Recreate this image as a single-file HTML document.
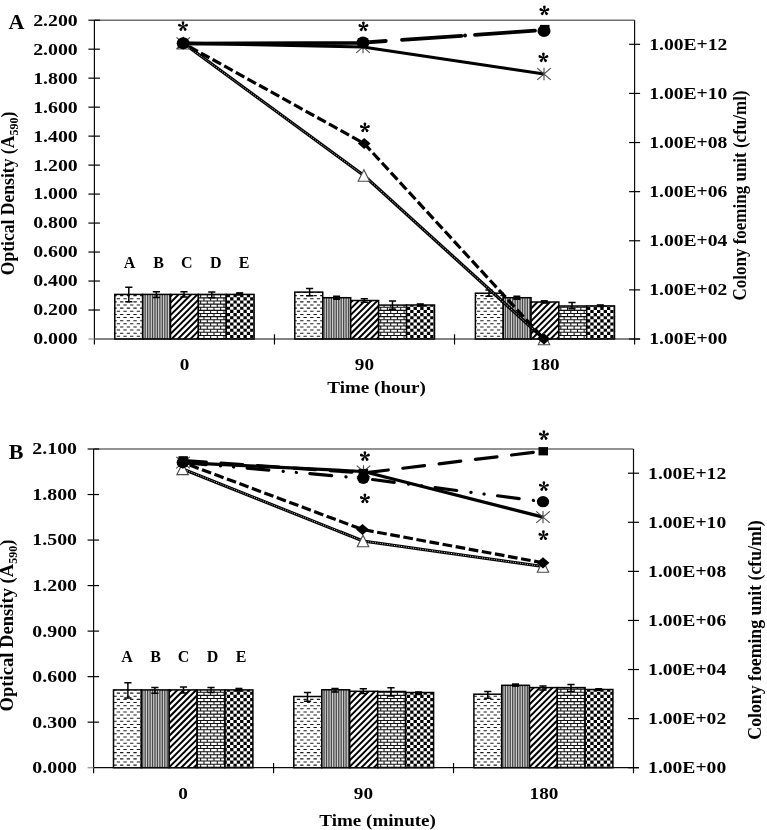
<!DOCTYPE html><html><head><meta charset="utf-8"><title>Figure</title>
<style>html,body{margin:0;padding:0;background:#fff}svg{display:block}text{font-family:"Liberation Serif",serif;font-weight:bold;fill:#000}</style></head><body>
<svg width="767" height="830" viewBox="0 0 767 830">
<rect width="767" height="830" fill="#fff"/>
<defs><g id="ast"><path id="arm" d="M-0.32,0.2L-1.27,-3.3A1.36,1.36 0 1 1 1.27,-3.3L0.32,0.2Z"/><use href="#arm" transform="rotate(72)"/><use href="#arm" transform="rotate(144)"/><use href="#arm" transform="rotate(216)"/><use href="#arm" transform="rotate(288)"/></g></defs>
<g opacity="0.999">
<line x1="94.4" y1="20.2" x2="634.6" y2="20.2" stroke="#6e6e6e" stroke-width="1.4"/>
<clipPath id="c1"><rect x="114.80" y="294.40" width="27.86" height="44.60"/></clipPath>
<g clip-path="url(#c1)">
<rect x="114.80" y="294.40" width="27.86" height="44.60" fill="#fff"/>
<path d="M106.72,289.36H149.33M110.05,292.49H149.33M106.72,295.62H149.33M110.05,298.75H149.33M106.72,301.88H149.33M110.05,305.01H149.33M106.72,308.14H149.33M110.05,311.27H149.33M106.72,314.40H149.33M110.05,317.53H149.33M106.72,320.66H149.33M110.05,323.79H149.33M106.72,326.92H149.33M110.05,330.05H149.33M106.72,333.18H149.33M110.05,336.31H149.33M106.72,339.44H149.33M110.05,342.57H149.33M106.72,345.70H149.33" stroke="#1a1a1a" stroke-width="1.05" stroke-dasharray="3.335 3.335" fill="none"/>
</g>
<rect x="114.80" y="294.40" width="27.86" height="44.60" fill="none" stroke="#000" stroke-width="1.5"/>
<clipPath id="c2"><rect x="142.66" y="294.40" width="27.86" height="44.60"/></clipPath>
<g clip-path="url(#c2)">
<rect x="142.66" y="294.40" width="27.86" height="44.60" fill="#cfcfcf"/>
<path d="M142.10,316.70H177.19" stroke="#484848" stroke-width="46.60" stroke-dasharray="1.274 1.176" fill="none"/>
</g>
<rect x="142.66" y="294.40" width="27.86" height="44.60" fill="none" stroke="#000" stroke-width="1.5"/>
<clipPath id="c3"><rect x="170.52" y="294.40" width="27.86" height="44.60"/></clipPath>
<g clip-path="url(#c3)">
<rect x="170.52" y="294.40" width="27.86" height="44.60" fill="#fff"/>
<path d="M160.08,287.96L205.05,242.99M160.08,294.22L205.05,249.25M160.08,300.48L205.05,255.51M160.08,306.74L205.05,261.77M160.08,313.00L205.05,268.03M160.08,319.26L205.05,274.29M160.08,325.52L205.05,280.55M160.08,331.78L205.05,286.81M160.08,338.04L205.05,293.07M160.08,344.30L205.05,299.33M160.08,350.56L205.05,305.59M160.08,356.82L205.05,311.85M160.08,363.08L205.05,318.11M160.08,369.34L205.05,324.37M160.08,375.60L205.05,330.63M160.08,381.86L205.05,336.89M160.08,388.12L205.05,343.15M160.08,394.38L205.05,349.41" stroke="#000" stroke-width="2.0" fill="none"/>
</g>
<rect x="170.52" y="294.40" width="27.86" height="44.60" fill="none" stroke="#000" stroke-width="1.5"/>
<clipPath id="c4"><rect x="198.38" y="294.40" width="27.86" height="44.60"/></clipPath>
<g clip-path="url(#c4)">
<rect x="198.38" y="294.40" width="27.86" height="44.60" fill="#fff"/>
<path d="M186.76,288.46H232.91M186.76,291.59H232.91M186.76,294.72H232.91M186.76,297.85H232.91M186.76,300.98H232.91M186.76,304.11H232.91M186.76,307.24H232.91M186.76,310.37H232.91M186.76,313.50H232.91M186.76,316.63H232.91M186.76,319.76H232.91M186.76,322.89H232.91M186.76,326.02H232.91M186.76,329.15H232.91M186.76,332.28H232.91M186.76,335.41H232.91M186.76,338.54H232.91M186.76,341.67H232.91M186.76,344.80H232.91" stroke="#111" stroke-width="1.05" fill="none"/>
<path d="M186.76,290.02H232.91M186.76,296.28H232.91M186.76,302.54H232.91M186.76,308.80H232.91M186.76,315.06H232.91M186.76,321.32H232.91M186.76,327.58H232.91M186.76,333.84H232.91M186.76,340.10H232.91M186.76,346.36H232.91M190.10,293.15H232.91M190.10,299.41H232.91M190.10,305.67H232.91M190.10,311.93H232.91M190.10,318.19H232.91M190.10,324.45H232.91M190.10,330.71H232.91M190.10,336.97H232.91M190.10,343.23H232.91" stroke="#111" stroke-width="3.13" stroke-dasharray="1.05 5.620" fill="none"/>
</g>
<rect x="198.38" y="294.40" width="27.86" height="44.60" fill="none" stroke="#000" stroke-width="1.5"/>
<clipPath id="c5"><rect x="226.24" y="294.40" width="27.86" height="44.60"/></clipPath>
<g clip-path="url(#c5)">
<rect x="226.24" y="294.40" width="27.86" height="44.60" fill="#fff"/>
<path d="M213.44,289.52H260.77M216.78,292.65H260.77M213.44,295.78H260.77M216.78,298.91H260.77M213.44,302.04H260.77M216.78,305.17H260.77M213.44,308.30H260.77M216.78,311.43H260.77M213.44,314.56H260.77M216.78,317.69H260.77M213.44,320.82H260.77M216.78,323.95H260.77M213.44,327.08H260.77M216.78,330.21H260.77M213.44,333.34H260.77M216.78,336.47H260.77M213.44,339.60H260.77M216.78,342.73H260.77M213.44,345.86H260.77" stroke="#000" stroke-width="3.130" stroke-dasharray="3.335 3.335" fill="none"/>
</g>
<rect x="226.24" y="294.40" width="27.86" height="44.60" fill="none" stroke="#000" stroke-width="1.5"/>
<clipPath id="c6"><rect x="294.80" y="292.10" width="27.94" height="46.90"/></clipPath>
<g clip-path="url(#c6)">
<rect x="294.80" y="292.10" width="27.94" height="46.90" fill="#fff"/>
<path d="M286.81,283.10H329.41M290.14,286.23H329.41M286.81,289.36H329.41M290.14,292.49H329.41M286.81,295.62H329.41M290.14,298.75H329.41M286.81,301.88H329.41M290.14,305.01H329.41M286.81,308.14H329.41M290.14,311.27H329.41M286.81,314.40H329.41M290.14,317.53H329.41M286.81,320.66H329.41M290.14,323.79H329.41M286.81,326.92H329.41M290.14,330.05H329.41M286.81,333.18H329.41M290.14,336.31H329.41M286.81,339.44H329.41M290.14,342.57H329.41M286.81,345.70H329.41" stroke="#1a1a1a" stroke-width="1.05" stroke-dasharray="3.335 3.335" fill="none"/>
</g>
<rect x="294.80" y="292.10" width="27.94" height="46.90" fill="none" stroke="#000" stroke-width="1.5"/>
<clipPath id="c7"><rect x="322.74" y="297.70" width="27.94" height="41.30"/></clipPath>
<g clip-path="url(#c7)">
<rect x="322.74" y="297.70" width="27.94" height="41.30" fill="#cfcfcf"/>
<path d="M320.95,318.35H357.35" stroke="#484848" stroke-width="43.30" stroke-dasharray="1.274 1.176" fill="none"/>
</g>
<rect x="322.74" y="297.70" width="27.94" height="41.30" fill="none" stroke="#000" stroke-width="1.5"/>
<clipPath id="c8"><rect x="350.68" y="300.50" width="27.94" height="38.50"/></clipPath>
<g clip-path="url(#c8)">
<rect x="350.68" y="300.50" width="27.94" height="38.50" fill="#fff"/>
<path d="M340.17,294.22L385.29,249.10M340.17,300.48L385.29,255.36M340.17,306.74L385.29,261.62M340.17,313.00L385.29,267.88M340.17,319.26L385.29,274.14M340.17,325.52L385.29,280.40M340.17,331.78L385.29,286.66M340.17,338.04L385.29,292.92M340.17,344.30L385.29,299.18M340.17,350.56L385.29,305.44M340.17,356.82L385.29,311.70M340.17,363.08L385.29,317.96M340.17,369.34L385.29,324.22M340.17,375.60L385.29,330.48M340.17,381.86L385.29,336.74M340.17,388.12L385.29,343.00M340.17,394.38L385.29,349.26" stroke="#000" stroke-width="2.0" fill="none"/>
</g>
<rect x="350.68" y="300.50" width="27.94" height="38.50" fill="none" stroke="#000" stroke-width="1.5"/>
<clipPath id="c9"><rect x="378.62" y="305.10" width="27.94" height="33.90"/></clipPath>
<g clip-path="url(#c9)">
<rect x="378.62" y="305.10" width="27.94" height="33.90" fill="#fff"/>
<path d="M366.85,294.72H413.23M366.85,297.85H413.23M366.85,300.98H413.23M366.85,304.11H413.23M366.85,307.24H413.23M366.85,310.37H413.23M366.85,313.50H413.23M366.85,316.63H413.23M366.85,319.76H413.23M366.85,322.89H413.23M366.85,326.02H413.23M366.85,329.15H413.23M366.85,332.28H413.23M366.85,335.41H413.23M366.85,338.54H413.23M366.85,341.67H413.23M366.85,344.80H413.23" stroke="#111" stroke-width="1.05" fill="none"/>
<path d="M366.85,296.29H413.23M366.85,302.55H413.23M366.85,308.81H413.23M366.85,315.06H413.23M366.85,321.32H413.23M366.85,327.58H413.23M366.85,333.84H413.23M366.85,340.10H413.23M366.85,346.36H413.23M370.18,299.42H413.23M370.18,305.68H413.23M370.18,311.94H413.23M370.18,318.19H413.23M370.18,324.45H413.23M370.18,330.71H413.23M370.18,336.97H413.23M370.18,343.23H413.23" stroke="#111" stroke-width="3.13" stroke-dasharray="1.05 5.620" fill="none"/>
</g>
<rect x="378.62" y="305.10" width="27.94" height="33.90" fill="none" stroke="#000" stroke-width="1.5"/>
<clipPath id="c10"><rect x="406.56" y="305.00" width="27.94" height="34.00"/></clipPath>
<g clip-path="url(#c10)">
<rect x="406.56" y="305.00" width="27.94" height="34.00" fill="#fff"/>
<path d="M393.53,295.79H441.17M396.86,298.92H441.17M393.53,302.05H441.17M396.86,305.18H441.17M393.53,308.31H441.17M396.86,311.44H441.17M393.53,314.56H441.17M396.86,317.69H441.17M393.53,320.82H441.17M396.86,323.95H441.17M393.53,327.08H441.17M396.86,330.21H441.17M393.53,333.34H441.17M396.86,336.47H441.17M393.53,339.60H441.17M396.86,342.73H441.17M393.53,345.86H441.17" stroke="#000" stroke-width="3.130" stroke-dasharray="3.335 3.335" fill="none"/>
</g>
<rect x="406.56" y="305.00" width="27.94" height="34.00" fill="none" stroke="#000" stroke-width="1.5"/>
<clipPath id="c11"><rect x="475.40" y="293.20" width="27.82" height="45.80"/></clipPath>
<g clip-path="url(#c11)">
<rect x="475.40" y="293.20" width="27.82" height="45.80" fill="#fff"/>
<path d="M466.90,283.10H509.89M470.23,286.23H509.89M466.90,289.36H509.89M470.23,292.49H509.89M466.90,295.62H509.89M470.23,298.75H509.89M466.90,301.88H509.89M470.23,305.01H509.89M466.90,308.14H509.89M470.23,311.27H509.89M466.90,314.40H509.89M470.23,317.53H509.89M466.90,320.66H509.89M470.23,323.79H509.89M466.90,326.92H509.89M470.23,330.05H509.89M466.90,333.18H509.89M470.23,336.31H509.89M466.90,339.44H509.89M470.23,342.57H509.89M466.90,345.70H509.89" stroke="#1a1a1a" stroke-width="1.05" stroke-dasharray="3.335 3.335" fill="none"/>
</g>
<rect x="475.40" y="293.20" width="27.82" height="45.80" fill="none" stroke="#000" stroke-width="1.5"/>
<clipPath id="c12"><rect x="503.22" y="297.70" width="27.82" height="41.30"/></clipPath>
<g clip-path="url(#c12)">
<rect x="503.22" y="297.70" width="27.82" height="41.30" fill="#cfcfcf"/>
<path d="M502.25,318.35H537.71" stroke="#484848" stroke-width="43.30" stroke-dasharray="1.274 1.176" fill="none"/>
</g>
<rect x="503.22" y="297.70" width="27.82" height="41.30" fill="none" stroke="#000" stroke-width="1.5"/>
<clipPath id="c13"><rect x="531.04" y="302.00" width="27.82" height="37.00"/></clipPath>
<g clip-path="url(#c13)">
<rect x="531.04" y="302.00" width="27.82" height="37.00" fill="#fff"/>
<path d="M520.26,294.22L565.53,248.95M520.26,300.48L565.53,255.21M520.26,306.74L565.53,261.47M520.26,313.00L565.53,267.73M520.26,319.26L565.53,273.99M520.26,325.52L565.53,280.25M520.26,331.78L565.53,286.51M520.26,338.04L565.53,292.77M520.26,344.30L565.53,299.03M520.26,350.56L565.53,305.29M520.26,356.82L565.53,311.55M520.26,363.08L565.53,317.81M520.26,369.34L565.53,324.07M520.26,375.60L565.53,330.33M520.26,381.86L565.53,336.59M520.26,388.12L565.53,342.85M520.26,394.38L565.53,349.11" stroke="#000" stroke-width="2.0" fill="none"/>
</g>
<rect x="531.04" y="302.00" width="27.82" height="37.00" fill="none" stroke="#000" stroke-width="1.5"/>
<clipPath id="c14"><rect x="558.86" y="306.00" width="27.82" height="33.00"/></clipPath>
<g clip-path="url(#c14)">
<rect x="558.86" y="306.00" width="27.82" height="33.00" fill="#fff"/>
<path d="M546.94,294.72H593.35M546.94,297.85H593.35M546.94,300.98H593.35M546.94,304.11H593.35M546.94,307.24H593.35M546.94,310.37H593.35M546.94,313.50H593.35M546.94,316.63H593.35M546.94,319.76H593.35M546.94,322.89H593.35M546.94,326.02H593.35M546.94,329.15H593.35M546.94,332.28H593.35M546.94,335.41H593.35M546.94,338.54H593.35M546.94,341.67H593.35M546.94,344.80H593.35" stroke="#111" stroke-width="1.05" fill="none"/>
<path d="M546.94,296.29H593.35M546.94,302.55H593.35M546.94,308.81H593.35M546.94,315.06H593.35M546.94,321.32H593.35M546.94,327.58H593.35M546.94,333.84H593.35M546.94,340.10H593.35M546.94,346.36H593.35M550.28,299.42H593.35M550.28,305.68H593.35M550.28,311.94H593.35M550.28,318.19H593.35M550.28,324.45H593.35M550.28,330.71H593.35M550.28,336.97H593.35M550.28,343.23H593.35" stroke="#111" stroke-width="3.13" stroke-dasharray="1.05 5.620" fill="none"/>
</g>
<rect x="558.86" y="306.00" width="27.82" height="33.00" fill="none" stroke="#000" stroke-width="1.5"/>
<clipPath id="c15"><rect x="586.68" y="305.90" width="27.82" height="33.10"/></clipPath>
<g clip-path="url(#c15)">
<rect x="586.68" y="305.90" width="27.82" height="33.10" fill="#fff"/>
<path d="M573.62,295.79H621.17M576.96,298.92H621.17M573.62,302.05H621.17M576.96,305.18H621.17M573.62,308.31H621.17M576.96,311.44H621.17M573.62,314.56H621.17M576.96,317.69H621.17M573.62,320.82H621.17M576.96,323.95H621.17M573.62,327.08H621.17M576.96,330.21H621.17M573.62,333.34H621.17M576.96,336.47H621.17M573.62,339.60H621.17M576.96,342.73H621.17M573.62,345.86H621.17" stroke="#000" stroke-width="3.130" stroke-dasharray="3.335 3.335" fill="none"/>
</g>
<rect x="586.68" y="305.90" width="27.82" height="33.10" fill="none" stroke="#000" stroke-width="1.5"/>
<path d="M94.4,20.2V344.6 M634.6,20.2V344.6 M94.4,339.0H640.1" stroke="#0a0a0a" stroke-width="1.18" fill="none"/>
<line x1="88.4" y1="339.0" x2="94.4" y2="339.0" stroke="#9a9a9a" stroke-width="1.3"/>
<line x1="88.4" y1="20.20" x2="99.9" y2="20.20" stroke="#000" stroke-width="1.2"/>
<text transform="translate(77.80,25.60) scale(1.24,1)" font-size="16" text-anchor="end" >2.200</text>
<line x1="88.4" y1="49.18" x2="99.9" y2="49.18" stroke="#000" stroke-width="1.2"/>
<text transform="translate(77.80,54.58) scale(1.24,1)" font-size="16" text-anchor="end" >2.000</text>
<line x1="88.4" y1="78.16" x2="99.9" y2="78.16" stroke="#000" stroke-width="1.2"/>
<text transform="translate(77.80,83.56) scale(1.24,1)" font-size="16" text-anchor="end" >1.800</text>
<line x1="88.4" y1="107.15" x2="99.9" y2="107.15" stroke="#000" stroke-width="1.2"/>
<text transform="translate(77.80,112.55) scale(1.24,1)" font-size="16" text-anchor="end" >1.600</text>
<line x1="88.4" y1="136.13" x2="99.9" y2="136.13" stroke="#000" stroke-width="1.2"/>
<text transform="translate(77.80,141.53) scale(1.24,1)" font-size="16" text-anchor="end" >1.400</text>
<line x1="88.4" y1="165.11" x2="99.9" y2="165.11" stroke="#000" stroke-width="1.2"/>
<text transform="translate(77.80,170.51) scale(1.24,1)" font-size="16" text-anchor="end" >1.200</text>
<line x1="88.4" y1="194.09" x2="99.9" y2="194.09" stroke="#000" stroke-width="1.2"/>
<text transform="translate(77.80,199.49) scale(1.24,1)" font-size="16" text-anchor="end" >1.000</text>
<line x1="88.4" y1="223.07" x2="99.9" y2="223.07" stroke="#000" stroke-width="1.2"/>
<text transform="translate(77.80,228.47) scale(1.24,1)" font-size="16" text-anchor="end" >0.800</text>
<line x1="88.4" y1="252.05" x2="99.9" y2="252.05" stroke="#000" stroke-width="1.2"/>
<text transform="translate(77.80,257.45) scale(1.24,1)" font-size="16" text-anchor="end" >0.600</text>
<line x1="88.4" y1="281.04" x2="99.9" y2="281.04" stroke="#000" stroke-width="1.2"/>
<text transform="translate(77.80,286.44) scale(1.24,1)" font-size="16" text-anchor="end" >0.400</text>
<line x1="88.4" y1="310.02" x2="99.9" y2="310.02" stroke="#000" stroke-width="1.2"/>
<text transform="translate(77.80,315.42) scale(1.24,1)" font-size="16" text-anchor="end" >0.200</text>
<text transform="translate(77.80,344.40) scale(1.24,1)" font-size="16" text-anchor="end" >0.000</text>
<line x1="629.1" y1="44.30" x2="640.1" y2="44.30" stroke="#000" stroke-width="1.2"/>
<text transform="translate(649.20,49.70) scale(1.225,1)" font-size="16" text-anchor="start" >1.00E+12</text>
<line x1="629.1" y1="93.42" x2="640.1" y2="93.42" stroke="#000" stroke-width="1.2"/>
<text transform="translate(649.20,98.82) scale(1.225,1)" font-size="16" text-anchor="start" >1.00E+10</text>
<line x1="629.1" y1="142.53" x2="640.1" y2="142.53" stroke="#000" stroke-width="1.2"/>
<text transform="translate(649.20,147.93) scale(1.225,1)" font-size="16" text-anchor="start" >1.00E+08</text>
<line x1="629.1" y1="191.65" x2="640.1" y2="191.65" stroke="#000" stroke-width="1.2"/>
<text transform="translate(649.20,197.05) scale(1.225,1)" font-size="16" text-anchor="start" >1.00E+06</text>
<line x1="629.1" y1="240.77" x2="640.1" y2="240.77" stroke="#000" stroke-width="1.2"/>
<text transform="translate(649.20,246.17) scale(1.225,1)" font-size="16" text-anchor="start" >1.00E+04</text>
<line x1="629.1" y1="289.88" x2="640.1" y2="289.88" stroke="#000" stroke-width="1.2"/>
<text transform="translate(649.20,295.28) scale(1.225,1)" font-size="16" text-anchor="start" >1.00E+02</text>
<line x1="629.1" y1="339.00" x2="640.1" y2="339.00" stroke="#000" stroke-width="1.2"/>
<text transform="translate(649.20,344.40) scale(1.225,1)" font-size="16" text-anchor="start" >1.00E+00</text>
<line x1="274.47" y1="334.3" x2="274.47" y2="344.5" stroke="#000" stroke-width="1.2"/>
<line x1="454.53" y1="334.3" x2="454.53" y2="344.5" stroke="#000" stroke-width="1.2"/>
<path d="M128.8,287.3V301.7M125.20000000000002,287.3H132.4M125.20000000000002,301.7H132.4" stroke="#000" stroke-width="1.5" fill="none"/>
<path d="M156.4,291.8V297.5M152.8,291.8H160.0M152.8,297.5H160.0" stroke="#000" stroke-width="1.5" fill="none"/>
<path d="M184,291.8V297M180.4,291.8H187.6M180.4,297H187.6" stroke="#000" stroke-width="1.5" fill="none"/>
<path d="M211.8,292.1V297.7M208.20000000000002,292.1H215.4M208.20000000000002,297.7H215.4" stroke="#000" stroke-width="1.5" fill="none"/>
<rect x="236.2" y="292.1" width="7" height="3.6" fill="#000"/>
<path d="M309.6,288.4V295.7M306.0,288.4H313.20000000000005M306.0,295.7H313.20000000000005" stroke="#000" stroke-width="1.5" fill="none"/>
<rect x="333.1" y="295.5" width="7" height="4.5" fill="#000"/>
<path d="M364.3,298.8V302.3M360.7,298.8H367.90000000000003M360.7,302.3H367.90000000000003" stroke="#000" stroke-width="1.5" fill="none"/>
<path d="M392.5,300.9V309.2M388.9,300.9H396.1M388.9,309.2H396.1" stroke="#000" stroke-width="1.5" fill="none"/>
<rect x="416.8" y="303.2" width="7" height="3.6" fill="#000"/>
<path d="M489,290V296.3M485.4,290H492.6M485.4,296.3H492.6" stroke="#000" stroke-width="1.5" fill="none"/>
<rect x="513.3" y="295.5" width="7" height="4.5" fill="#000"/>
<rect x="540.8" y="300.1" width="7" height="3.7" fill="#000"/>
<path d="M572,302.5V308.8M568.4,302.5H575.6M568.4,308.8H575.6" stroke="#000" stroke-width="1.5" fill="none"/>
<rect x="596.8" y="304.2" width="7" height="3.1" fill="#000"/>
<text transform="translate(184.50,370.20) scale(1.2,1)" font-size="16" text-anchor="middle" >0</text>
<text transform="translate(364.40,370.20) scale(1.2,1)" font-size="16" text-anchor="middle" >90</text>
<text transform="translate(545.30,370.20) scale(1.2,1)" font-size="16" text-anchor="middle" >180</text>
<text transform="translate(376.60,392.80) scale(1.19,1)" font-size="16" text-anchor="middle" >Time (hour)</text>
<polyline points="183.4,43.3 363.9,175.5 544.0,339.0" fill="none" stroke="#000" stroke-width="3.2"/>
<polyline points="183.4,43.3 363.9,175.5 544.0,339.0" fill="none" stroke="#fff" stroke-width="0.85" stroke-dasharray="0.9 1.5"/>
<polyline points="183.2,43.2 364.2,143.5 544.0,339.0" fill="none" stroke="#000" stroke-width="3.2" stroke-dasharray="9.7 3.6" stroke-dashoffset="-7"/>
<polyline points="183.2,43.2 363.0,47.0 544.0,74.0" fill="none" stroke="#000" stroke-width="3.2" stroke-linejoin="round"/>
<path d="M183.2,43.6L363,42.9 M363.0,42.6L385.8,41.0 M402.0,39.9L461.4,35.8 M465.0,35.5L465.1,35.5 M475.0,34.8L535.0,30.6" fill="none" stroke="#000" stroke-width="3.8" stroke-linecap="round"/>
<path d="M183.4,37.55L189.15,49.05L177.65,49.05Z" fill="#fff" stroke="#4a4a4a" stroke-width="1.1"/>
<path d="M363.9,169.75L369.65,181.25L358.15,181.25Z" fill="#fff" stroke="#4a4a4a" stroke-width="1.1"/>
<path d="M544,333.25L549.75,344.75L538.25,344.75Z" fill="#fff" stroke="#4a4a4a" stroke-width="1.1"/>
<path d="M176.4,37.4L190.0,49.0M176.4,49.0L190.0,37.4M183.2,37.0L183.2,49.4" stroke="#4a4a4a" stroke-width="1.1" fill="none"/>
<path d="M356.2,41.2L369.8,52.8M356.2,52.8L369.8,41.2M363.0,40.8L363.0,53.2" stroke="#4a4a4a" stroke-width="1.1" fill="none"/>
<path d="M537.2,68.2L550.8,79.8M537.2,79.8L550.8,68.2M544.0,67.8L544.0,80.2" stroke="#4a4a4a" stroke-width="1.1" fill="none"/>
<path d="M176.79999999999998,43.2L183.2,37.6L189.6,43.2L183.2,48.800000000000004Z" fill="#000"/>
<path d="M357.79999999999995,143.5L364.2,137.9L370.6,143.5L364.2,149.1Z" fill="#000"/>
<path d="M537.6,339L544,333.4L550.4,339L544,344.6Z" fill="#000"/>
<rect x="178.4" y="39.1" width="9.5" height="8.3" fill="#000"/>
<rect x="358.2" y="38.5" width="9.5" height="8.3" fill="#000"/>
<rect x="540.0" y="24.9" width="9.5" height="8.3" fill="#000"/>
<ellipse cx="183.2" cy="43.2" rx="6.5" ry="5.98" fill="#000"/>
<ellipse cx="363" cy="42.6" rx="6.5" ry="5.98" fill="#000"/>
<ellipse cx="544" cy="31" rx="6.5" ry="5.98" fill="#000"/>
<use href="#ast" x="183.0" y="26.4"/>
<use href="#ast" x="363.4" y="26.7"/>
<use href="#ast" x="544.4" y="10.7"/>
<use href="#ast" x="543.4" y="57.7"/>
<use href="#ast" x="364.9" y="127.7"/>
<text transform="translate(129.60,267.70) scale(1.0,1)" font-size="16" text-anchor="middle" >A</text>
<text transform="translate(158.50,267.70) scale(1.0,1)" font-size="16" text-anchor="middle" >B</text>
<text transform="translate(186.70,267.70) scale(1.0,1)" font-size="16" text-anchor="middle" >C</text>
<text transform="translate(215.90,267.70) scale(1.0,1)" font-size="16" text-anchor="middle" >D</text>
<text transform="translate(244.00,267.70) scale(1.0,1)" font-size="16" text-anchor="middle" >E</text>
<text transform="translate(16.50,29.30) scale(1.0,1)" font-size="22" text-anchor="middle" >A</text>
<text transform="translate(14.30,193.50) rotate(-90) scale(1,1.05)" font-size="17.6" text-anchor="middle">Optical Density (A<tspan font-size="12" dy="3.8">590</tspan><tspan dy="-3.8">)</tspan></text>
<text transform="translate(745.50,195.50) rotate(-90) scale(1,1.1)" font-size="17" text-anchor="middle">Colony foeming unit (cfu/ml)</text>
<line x1="93.6" y1="449.0" x2="633.5" y2="449.0" stroke="#6e6e6e" stroke-width="1.4"/>
<clipPath id="c16"><rect x="113.50" y="689.90" width="27.88" height="77.80"/></clipPath>
<g clip-path="url(#c16)">
<rect x="113.50" y="689.90" width="27.88" height="77.80" fill="#fff"/>
<path d="M106.72,683.74H148.05M110.05,686.87H148.05M106.72,690.00H148.05M110.05,693.13H148.05M106.72,696.26H148.05M110.05,699.39H148.05M106.72,702.52H148.05M110.05,705.65H148.05M106.72,708.78H148.05M110.05,711.91H148.05M106.72,715.04H148.05M110.05,718.17H148.05M106.72,721.30H148.05M110.05,724.43H148.05M106.72,727.56H148.05M110.05,730.69H148.05M106.72,733.82H148.05M110.05,736.95H148.05M106.72,740.08H148.05M110.05,743.21H148.05M106.72,746.34H148.05M110.05,749.47H148.05M106.72,752.60H148.05M110.05,755.73H148.05M106.72,758.86H148.05M110.05,761.99H148.05M106.72,765.12H148.05M110.05,768.25H148.05M106.72,771.38H148.05M110.05,774.51H148.05" stroke="#1a1a1a" stroke-width="1.05" stroke-dasharray="3.335 3.335" fill="none"/>
</g>
<rect x="113.50" y="689.90" width="27.88" height="77.80" fill="none" stroke="#000" stroke-width="1.5"/>
<clipPath id="c17"><rect x="141.38" y="689.90" width="27.88" height="77.80"/></clipPath>
<g clip-path="url(#c17)">
<rect x="141.38" y="689.90" width="27.88" height="77.80" fill="#cfcfcf"/>
<path d="M139.65,728.80H175.93" stroke="#484848" stroke-width="79.80" stroke-dasharray="1.274 1.176" fill="none"/>
</g>
<rect x="141.38" y="689.90" width="27.88" height="77.80" fill="none" stroke="#000" stroke-width="1.5"/>
<clipPath id="c18"><rect x="169.26" y="689.90" width="27.88" height="77.80"/></clipPath>
<g clip-path="url(#c18)">
<rect x="169.26" y="689.90" width="27.88" height="77.80" fill="#fff"/>
<path d="M160.08,682.34L203.81,638.61M160.08,688.60L203.81,644.87M160.08,694.86L203.81,651.13M160.08,701.12L203.81,657.39M160.08,707.38L203.81,663.65M160.08,713.64L203.81,669.91M160.08,719.90L203.81,676.17M160.08,726.16L203.81,682.43M160.08,732.42L203.81,688.69M160.08,738.68L203.81,694.95M160.08,744.94L203.81,701.21M160.08,751.20L203.81,707.47M160.08,757.46L203.81,713.73M160.08,763.72L203.81,719.99M160.08,769.98L203.81,726.25M160.08,776.24L203.81,732.51M160.08,782.50L203.81,738.77M160.08,788.76L203.81,745.03M160.08,795.02L203.81,751.29M160.08,801.28L203.81,757.55M160.08,807.54L203.81,763.81M160.08,813.80L203.81,770.07M160.08,820.06L203.81,776.33" stroke="#000" stroke-width="2.0" fill="none"/>
</g>
<rect x="169.26" y="689.90" width="27.88" height="77.80" fill="none" stroke="#000" stroke-width="1.5"/>
<clipPath id="c19"><rect x="197.14" y="689.90" width="27.88" height="77.80"/></clipPath>
<g clip-path="url(#c19)">
<rect x="197.14" y="689.90" width="27.88" height="77.80" fill="#fff"/>
<path d="M186.76,682.84H231.69M186.76,685.97H231.69M186.76,689.10H231.69M186.76,692.23H231.69M186.76,695.36H231.69M186.76,698.49H231.69M186.76,701.62H231.69M186.76,704.75H231.69M186.76,707.88H231.69M186.76,711.01H231.69M186.76,714.14H231.69M186.76,717.27H231.69M186.76,720.40H231.69M186.76,723.53H231.69M186.76,726.66H231.69M186.76,729.79H231.69M186.76,732.92H231.69M186.76,736.05H231.69M186.76,739.18H231.69M186.76,742.31H231.69M186.76,745.44H231.69M186.76,748.57H231.69M186.76,751.70H231.69M186.76,754.83H231.69M186.76,757.96H231.69M186.76,761.09H231.69M186.76,764.22H231.69M186.76,767.35H231.69M186.76,770.48H231.69M186.76,773.61H231.69" stroke="#111" stroke-width="1.05" fill="none"/>
<path d="M186.76,684.41H231.69M186.76,690.67H231.69M186.76,696.93H231.69M186.76,703.19H231.69M186.76,709.45H231.69M186.76,715.71H231.69M186.76,721.97H231.69M186.76,728.23H231.69M186.76,734.49H231.69M186.76,740.75H231.69M186.76,747.00H231.69M186.76,753.26H231.69M186.76,759.52H231.69M186.76,765.78H231.69M186.76,772.04H231.69M190.10,687.54H231.69M190.10,693.80H231.69M190.10,700.06H231.69M190.10,706.32H231.69M190.10,712.58H231.69M190.10,718.84H231.69M190.10,725.10H231.69M190.10,731.36H231.69M190.10,737.62H231.69M190.10,743.88H231.69M190.10,750.13H231.69M190.10,756.39H231.69M190.10,762.65H231.69M190.10,768.91H231.69M190.10,775.17H231.69" stroke="#111" stroke-width="3.13" stroke-dasharray="1.05 5.620" fill="none"/>
</g>
<rect x="197.14" y="689.90" width="27.88" height="77.80" fill="none" stroke="#000" stroke-width="1.5"/>
<clipPath id="c20"><rect x="225.02" y="689.90" width="27.88" height="77.80"/></clipPath>
<g clip-path="url(#c20)">
<rect x="225.02" y="689.90" width="27.88" height="77.80" fill="#fff"/>
<path d="M213.44,683.91H259.57M216.78,687.04H259.57M213.44,690.17H259.57M216.78,693.30H259.57M213.44,696.43H259.57M216.78,699.56H259.57M213.44,702.69H259.57M216.78,705.82H259.57M213.44,708.95H259.57M216.78,712.08H259.57M213.44,715.21H259.57M216.78,718.34H259.57M213.44,721.47H259.57M216.78,724.60H259.57M213.44,727.73H259.57M216.78,730.86H259.57M213.44,733.99H259.57M216.78,737.12H259.57M213.44,740.25H259.57M216.78,743.38H259.57M213.44,746.50H259.57M216.78,749.63H259.57M213.44,752.76H259.57M216.78,755.89H259.57M213.44,759.02H259.57M216.78,762.15H259.57M213.44,765.28H259.57M216.78,768.41H259.57M213.44,771.54H259.57M216.78,774.67H259.57" stroke="#000" stroke-width="3.130" stroke-dasharray="3.335 3.335" fill="none"/>
</g>
<rect x="225.02" y="689.90" width="27.88" height="77.80" fill="none" stroke="#000" stroke-width="1.5"/>
<clipPath id="c21"><rect x="293.80" y="696.50" width="27.96" height="71.20"/></clipPath>
<g clip-path="url(#c21)">
<rect x="293.80" y="696.50" width="27.96" height="71.20" fill="#fff"/>
<path d="M286.81,690.00H328.43M290.14,693.13H328.43M286.81,696.26H328.43M290.14,699.39H328.43M286.81,702.52H328.43M290.14,705.65H328.43M286.81,708.78H328.43M290.14,711.91H328.43M286.81,715.04H328.43M290.14,718.17H328.43M286.81,721.30H328.43M290.14,724.43H328.43M286.81,727.56H328.43M290.14,730.69H328.43M286.81,733.82H328.43M290.14,736.95H328.43M286.81,740.08H328.43M290.14,743.21H328.43M286.81,746.34H328.43M290.14,749.47H328.43M286.81,752.60H328.43M290.14,755.73H328.43M286.81,758.86H328.43M290.14,761.99H328.43M286.81,765.12H328.43M290.14,768.25H328.43M286.81,771.38H328.43M290.14,774.51H328.43" stroke="#1a1a1a" stroke-width="1.05" stroke-dasharray="3.335 3.335" fill="none"/>
</g>
<rect x="293.80" y="696.50" width="27.96" height="71.20" fill="none" stroke="#000" stroke-width="1.5"/>
<clipPath id="c22"><rect x="321.76" y="689.80" width="27.96" height="77.90"/></clipPath>
<g clip-path="url(#c22)">
<rect x="321.76" y="689.80" width="27.96" height="77.90" fill="#cfcfcf"/>
<path d="M320.95,728.75H356.39" stroke="#484848" stroke-width="79.90" stroke-dasharray="1.274 1.176" fill="none"/>
</g>
<rect x="321.76" y="689.80" width="27.96" height="77.90" fill="none" stroke="#000" stroke-width="1.5"/>
<clipPath id="c23"><rect x="349.72" y="691.30" width="27.96" height="76.40"/></clipPath>
<g clip-path="url(#c23)">
<rect x="349.72" y="691.30" width="27.96" height="76.40" fill="#fff"/>
<path d="M340.17,682.34L384.35,638.16M340.17,688.60L384.35,644.42M340.17,694.86L384.35,650.68M340.17,701.12L384.35,656.94M340.17,707.38L384.35,663.20M340.17,713.64L384.35,669.46M340.17,719.90L384.35,675.72M340.17,726.16L384.35,681.98M340.17,732.42L384.35,688.24M340.17,738.68L384.35,694.50M340.17,744.94L384.35,700.76M340.17,751.20L384.35,707.02M340.17,757.46L384.35,713.28M340.17,763.72L384.35,719.54M340.17,769.98L384.35,725.80M340.17,776.24L384.35,732.06M340.17,782.50L384.35,738.32M340.17,788.76L384.35,744.58M340.17,795.02L384.35,750.84M340.17,801.28L384.35,757.10M340.17,807.54L384.35,763.36M340.17,813.80L384.35,769.62M340.17,820.06L384.35,775.88" stroke="#000" stroke-width="2.0" fill="none"/>
</g>
<rect x="349.72" y="691.30" width="27.96" height="76.40" fill="none" stroke="#000" stroke-width="1.5"/>
<clipPath id="c24"><rect x="377.68" y="691.50" width="27.96" height="76.20"/></clipPath>
<g clip-path="url(#c24)">
<rect x="377.68" y="691.50" width="27.96" height="76.20" fill="#fff"/>
<path d="M366.85,682.84H412.31M366.85,685.97H412.31M366.85,689.10H412.31M366.85,692.23H412.31M366.85,695.36H412.31M366.85,698.49H412.31M366.85,701.62H412.31M366.85,704.75H412.31M366.85,707.88H412.31M366.85,711.01H412.31M366.85,714.14H412.31M366.85,717.27H412.31M366.85,720.40H412.31M366.85,723.53H412.31M366.85,726.66H412.31M366.85,729.79H412.31M366.85,732.92H412.31M366.85,736.05H412.31M366.85,739.18H412.31M366.85,742.31H412.31M366.85,745.44H412.31M366.85,748.57H412.31M366.85,751.70H412.31M366.85,754.83H412.31M366.85,757.96H412.31M366.85,761.09H412.31M366.85,764.22H412.31M366.85,767.35H412.31M366.85,770.48H412.31M366.85,773.61H412.31" stroke="#111" stroke-width="1.05" fill="none"/>
<path d="M366.85,684.41H412.31M366.85,690.67H412.31M366.85,696.93H412.31M366.85,703.19H412.31M366.85,709.45H412.31M366.85,715.71H412.31M366.85,721.97H412.31M366.85,728.23H412.31M366.85,734.49H412.31M366.85,740.75H412.31M366.85,747.00H412.31M366.85,753.26H412.31M366.85,759.52H412.31M366.85,765.78H412.31M366.85,772.04H412.31M370.18,687.54H412.31M370.18,693.80H412.31M370.18,700.06H412.31M370.18,706.32H412.31M370.18,712.58H412.31M370.18,718.84H412.31M370.18,725.10H412.31M370.18,731.36H412.31M370.18,737.62H412.31M370.18,743.88H412.31M370.18,750.13H412.31M370.18,756.39H412.31M370.18,762.65H412.31M370.18,768.91H412.31M370.18,775.17H412.31" stroke="#111" stroke-width="3.13" stroke-dasharray="1.05 5.620" fill="none"/>
</g>
<rect x="377.68" y="691.50" width="27.96" height="76.20" fill="none" stroke="#000" stroke-width="1.5"/>
<clipPath id="c25"><rect x="405.64" y="692.50" width="27.96" height="75.20"/></clipPath>
<g clip-path="url(#c25)">
<rect x="405.64" y="692.50" width="27.96" height="75.20" fill="#fff"/>
<path d="M393.53,683.91H440.27M396.86,687.04H440.27M393.53,690.17H440.27M396.86,693.30H440.27M393.53,696.43H440.27M396.86,699.56H440.27M393.53,702.69H440.27M396.86,705.82H440.27M393.53,708.95H440.27M396.86,712.08H440.27M393.53,715.21H440.27M396.86,718.34H440.27M393.53,721.47H440.27M396.86,724.60H440.27M393.53,727.73H440.27M396.86,730.86H440.27M393.53,733.99H440.27M396.86,737.12H440.27M393.53,740.25H440.27M396.86,743.38H440.27M393.53,746.50H440.27M396.86,749.63H440.27M393.53,752.76H440.27M396.86,755.89H440.27M393.53,759.02H440.27M396.86,762.15H440.27M393.53,765.28H440.27M396.86,768.41H440.27M393.53,771.54H440.27M396.86,774.67H440.27" stroke="#000" stroke-width="3.130" stroke-dasharray="3.335 3.335" fill="none"/>
</g>
<rect x="405.64" y="692.50" width="27.96" height="75.20" fill="none" stroke="#000" stroke-width="1.5"/>
<clipPath id="c26"><rect x="473.90" y="694.20" width="27.80" height="73.50"/></clipPath>
<g clip-path="url(#c26)">
<rect x="473.90" y="694.20" width="27.80" height="73.50" fill="#fff"/>
<path d="M466.90,683.74H508.37M470.23,686.87H508.37M466.90,690.00H508.37M470.23,693.13H508.37M466.90,696.26H508.37M470.23,699.39H508.37M466.90,702.52H508.37M470.23,705.65H508.37M466.90,708.78H508.37M470.23,711.91H508.37M466.90,715.04H508.37M470.23,718.17H508.37M466.90,721.30H508.37M470.23,724.43H508.37M466.90,727.56H508.37M470.23,730.69H508.37M466.90,733.82H508.37M470.23,736.95H508.37M466.90,740.08H508.37M470.23,743.21H508.37M466.90,746.34H508.37M470.23,749.47H508.37M466.90,752.60H508.37M470.23,755.73H508.37M466.90,758.86H508.37M470.23,761.99H508.37M466.90,765.12H508.37M470.23,768.25H508.37M466.90,771.38H508.37M470.23,774.51H508.37" stroke="#1a1a1a" stroke-width="1.05" stroke-dasharray="3.335 3.335" fill="none"/>
</g>
<rect x="473.90" y="694.20" width="27.80" height="73.50" fill="none" stroke="#000" stroke-width="1.5"/>
<clipPath id="c27"><rect x="501.70" y="685.30" width="27.80" height="82.40"/></clipPath>
<g clip-path="url(#c27)">
<rect x="501.70" y="685.30" width="27.80" height="82.40" fill="#cfcfcf"/>
<path d="M499.80,726.50H536.17" stroke="#484848" stroke-width="84.40" stroke-dasharray="1.274 1.176" fill="none"/>
</g>
<rect x="501.70" y="685.30" width="27.80" height="82.40" fill="none" stroke="#000" stroke-width="1.5"/>
<clipPath id="c28"><rect x="529.50" y="687.60" width="27.80" height="80.10"/></clipPath>
<g clip-path="url(#c28)">
<rect x="529.50" y="687.60" width="27.80" height="80.10" fill="#fff"/>
<path d="M520.26,676.08L563.97,632.37M520.26,682.34L563.97,638.63M520.26,688.60L563.97,644.89M520.26,694.86L563.97,651.15M520.26,701.12L563.97,657.41M520.26,707.38L563.97,663.67M520.26,713.64L563.97,669.93M520.26,719.90L563.97,676.19M520.26,726.16L563.97,682.45M520.26,732.42L563.97,688.71M520.26,738.68L563.97,694.97M520.26,744.94L563.97,701.23M520.26,751.20L563.97,707.49M520.26,757.46L563.97,713.75M520.26,763.72L563.97,720.01M520.26,769.98L563.97,726.27M520.26,776.24L563.97,732.53M520.26,782.50L563.97,738.79M520.26,788.76L563.97,745.05M520.26,795.02L563.97,751.31M520.26,801.28L563.97,757.57M520.26,807.54L563.97,763.83M520.26,813.80L563.97,770.09" stroke="#000" stroke-width="2.0" fill="none"/>
</g>
<rect x="529.50" y="687.60" width="27.80" height="80.10" fill="none" stroke="#000" stroke-width="1.5"/>
<clipPath id="c29"><rect x="557.30" y="687.60" width="27.80" height="80.10"/></clipPath>
<g clip-path="url(#c29)">
<rect x="557.30" y="687.60" width="27.80" height="80.10" fill="#fff"/>
<path d="M546.94,676.58H591.77M546.94,679.71H591.77M546.94,682.84H591.77M546.94,685.97H591.77M546.94,689.10H591.77M546.94,692.23H591.77M546.94,695.36H591.77M546.94,698.49H591.77M546.94,701.62H591.77M546.94,704.75H591.77M546.94,707.88H591.77M546.94,711.01H591.77M546.94,714.14H591.77M546.94,717.27H591.77M546.94,720.40H591.77M546.94,723.53H591.77M546.94,726.66H591.77M546.94,729.79H591.77M546.94,732.92H591.77M546.94,736.05H591.77M546.94,739.18H591.77M546.94,742.31H591.77M546.94,745.44H591.77M546.94,748.57H591.77M546.94,751.70H591.77M546.94,754.83H591.77M546.94,757.96H591.77M546.94,761.09H591.77M546.94,764.22H591.77M546.94,767.35H591.77M546.94,770.48H591.77M546.94,773.61H591.77" stroke="#111" stroke-width="1.05" fill="none"/>
<path d="M546.94,678.15H591.77M546.94,684.41H591.77M546.94,690.67H591.77M546.94,696.93H591.77M546.94,703.19H591.77M546.94,709.45H591.77M546.94,715.71H591.77M546.94,721.97H591.77M546.94,728.23H591.77M546.94,734.49H591.77M546.94,740.75H591.77M546.94,747.00H591.77M546.94,753.26H591.77M546.94,759.52H591.77M546.94,765.78H591.77M546.94,772.04H591.77M550.28,681.28H591.77M550.28,687.54H591.77M550.28,693.80H591.77M550.28,700.06H591.77M550.28,706.32H591.77M550.28,712.58H591.77M550.28,718.84H591.77M550.28,725.10H591.77M550.28,731.36H591.77M550.28,737.62H591.77M550.28,743.88H591.77M550.28,750.13H591.77M550.28,756.39H591.77M550.28,762.65H591.77M550.28,768.91H591.77M550.28,775.17H591.77" stroke="#111" stroke-width="3.13" stroke-dasharray="1.05 5.620" fill="none"/>
</g>
<rect x="557.30" y="687.60" width="27.80" height="80.10" fill="none" stroke="#000" stroke-width="1.5"/>
<clipPath id="c30"><rect x="585.10" y="689.50" width="27.80" height="78.20"/></clipPath>
<g clip-path="url(#c30)">
<rect x="585.10" y="689.50" width="27.80" height="78.20" fill="#fff"/>
<path d="M573.62,683.91H619.57M576.96,687.04H619.57M573.62,690.17H619.57M576.96,693.30H619.57M573.62,696.43H619.57M576.96,699.56H619.57M573.62,702.69H619.57M576.96,705.82H619.57M573.62,708.95H619.57M576.96,712.08H619.57M573.62,715.21H619.57M576.96,718.34H619.57M573.62,721.47H619.57M576.96,724.60H619.57M573.62,727.73H619.57M576.96,730.86H619.57M573.62,733.99H619.57M576.96,737.12H619.57M573.62,740.25H619.57M576.96,743.38H619.57M573.62,746.50H619.57M576.96,749.63H619.57M573.62,752.76H619.57M576.96,755.89H619.57M573.62,759.02H619.57M576.96,762.15H619.57M573.62,765.28H619.57M576.96,768.41H619.57M573.62,771.54H619.57M576.96,774.67H619.57" stroke="#000" stroke-width="3.130" stroke-dasharray="3.335 3.335" fill="none"/>
</g>
<rect x="585.10" y="689.50" width="27.80" height="78.20" fill="none" stroke="#000" stroke-width="1.5"/>
<path d="M93.6,449.0V773.3000000000001 M633.5,449.0V773.3000000000001 M93.6,767.7H639.0" stroke="#0a0a0a" stroke-width="1.18" fill="none"/>
<line x1="87.6" y1="767.7" x2="93.6" y2="767.7" stroke="#9a9a9a" stroke-width="1.3"/>
<line x1="87.6" y1="449.00" x2="99.1" y2="449.00" stroke="#000" stroke-width="1.2"/>
<text transform="translate(77.00,454.40) scale(1.24,1)" font-size="16" text-anchor="end" >2.100</text>
<line x1="87.6" y1="494.53" x2="99.1" y2="494.53" stroke="#000" stroke-width="1.2"/>
<text transform="translate(77.00,499.93) scale(1.24,1)" font-size="16" text-anchor="end" >1.800</text>
<line x1="87.6" y1="540.06" x2="99.1" y2="540.06" stroke="#000" stroke-width="1.2"/>
<text transform="translate(77.00,545.46) scale(1.24,1)" font-size="16" text-anchor="end" >1.500</text>
<line x1="87.6" y1="585.59" x2="99.1" y2="585.59" stroke="#000" stroke-width="1.2"/>
<text transform="translate(77.00,590.99) scale(1.24,1)" font-size="16" text-anchor="end" >1.200</text>
<line x1="87.6" y1="631.11" x2="99.1" y2="631.11" stroke="#000" stroke-width="1.2"/>
<text transform="translate(77.00,636.51) scale(1.24,1)" font-size="16" text-anchor="end" >0.900</text>
<line x1="87.6" y1="676.64" x2="99.1" y2="676.64" stroke="#000" stroke-width="1.2"/>
<text transform="translate(77.00,682.04) scale(1.24,1)" font-size="16" text-anchor="end" >0.600</text>
<line x1="87.6" y1="722.17" x2="99.1" y2="722.17" stroke="#000" stroke-width="1.2"/>
<text transform="translate(77.00,727.57) scale(1.24,1)" font-size="16" text-anchor="end" >0.300</text>
<text transform="translate(77.00,773.10) scale(1.24,1)" font-size="16" text-anchor="end" >0.000</text>
<line x1="628.0" y1="473.20" x2="639.0" y2="473.20" stroke="#000" stroke-width="1.2"/>
<text transform="translate(648.10,478.60) scale(1.225,1)" font-size="16" text-anchor="start" >1.00E+12</text>
<line x1="628.0" y1="522.28" x2="639.0" y2="522.28" stroke="#000" stroke-width="1.2"/>
<text transform="translate(648.10,527.68) scale(1.225,1)" font-size="16" text-anchor="start" >1.00E+10</text>
<line x1="628.0" y1="571.37" x2="639.0" y2="571.37" stroke="#000" stroke-width="1.2"/>
<text transform="translate(648.10,576.77) scale(1.225,1)" font-size="16" text-anchor="start" >1.00E+08</text>
<line x1="628.0" y1="620.45" x2="639.0" y2="620.45" stroke="#000" stroke-width="1.2"/>
<text transform="translate(648.10,625.85) scale(1.225,1)" font-size="16" text-anchor="start" >1.00E+06</text>
<line x1="628.0" y1="669.53" x2="639.0" y2="669.53" stroke="#000" stroke-width="1.2"/>
<text transform="translate(648.10,674.93) scale(1.225,1)" font-size="16" text-anchor="start" >1.00E+04</text>
<line x1="628.0" y1="718.62" x2="639.0" y2="718.62" stroke="#000" stroke-width="1.2"/>
<text transform="translate(648.10,724.02) scale(1.225,1)" font-size="16" text-anchor="start" >1.00E+02</text>
<line x1="628.0" y1="767.70" x2="639.0" y2="767.70" stroke="#000" stroke-width="1.2"/>
<text transform="translate(648.10,773.10) scale(1.225,1)" font-size="16" text-anchor="start" >1.00E+00</text>
<line x1="273.57" y1="763.0" x2="273.57" y2="773.2" stroke="#000" stroke-width="1.2"/>
<line x1="453.53" y1="763.0" x2="453.53" y2="773.2" stroke="#000" stroke-width="1.2"/>
<path d="M127.9,682.8V697.9M124.30000000000001,682.8H131.5M124.30000000000001,697.9H131.5" stroke="#000" stroke-width="1.5" fill="none"/>
<path d="M154.9,687.4V693.3M151.3,687.4H158.5M151.3,693.3H158.5" stroke="#000" stroke-width="1.5" fill="none"/>
<path d="M183.5,686.9V693.1M179.9,686.9H187.1M179.9,693.1H187.1" stroke="#000" stroke-width="1.5" fill="none"/>
<path d="M211,687.6V692.6M207.4,687.6H214.6M207.4,692.6H214.6" stroke="#000" stroke-width="1.5" fill="none"/>
<rect x="235.4" y="687.7" width="7" height="4.1" fill="#000"/>
<path d="M307.5,692.5V701.3M303.9,692.5H311.1M303.9,701.3H311.1" stroke="#000" stroke-width="1.5" fill="none"/>
<path d="M335,688.4V692M331.4,688.4H338.6M331.4,692H338.6" stroke="#000" stroke-width="1.5" fill="none"/>
<path d="M363.3,688.8V693.4M359.7,688.8H366.90000000000003M359.7,693.4H366.90000000000003" stroke="#000" stroke-width="1.5" fill="none"/>
<path d="M391,687.7V696M387.4,687.7H394.6M387.4,696H394.6" stroke="#000" stroke-width="1.5" fill="none"/>
<rect x="415.1" y="691.2" width="7" height="4.0" fill="#000"/>
<path d="M487.8,691.6V698.2M484.2,691.6H491.40000000000003M484.2,698.2H491.40000000000003" stroke="#000" stroke-width="1.5" fill="none"/>
<rect x="512.0" y="683.3" width="7" height="3.6" fill="#000"/>
<path d="M543,686V690M539.4,686H546.6M539.4,690H546.6" stroke="#000" stroke-width="1.5" fill="none"/>
<path d="M571,684.6V691.6M567.4,684.6H574.6M567.4,691.6H574.6" stroke="#000" stroke-width="1.5" fill="none"/>
<rect x="595.3" y="688.0" width="7" height="3.0" fill="#000"/>
<text transform="translate(183.00,799.00) scale(1.2,1)" font-size="16" text-anchor="middle" >0</text>
<text transform="translate(363.40,799.00) scale(1.2,1)" font-size="16" text-anchor="middle" >90</text>
<text transform="translate(544.00,799.00) scale(1.2,1)" font-size="16" text-anchor="middle" >180</text>
<text transform="translate(377.60,826.00) scale(1.19,1)" font-size="16" text-anchor="middle" >Time (minute)</text>
<polyline points="182.6,468.9 363.0,541.0 543.0,566.5" fill="none" stroke="#000" stroke-width="3.2"/>
<polyline points="182.6,468.9 363.0,541.0 543.0,566.5" fill="none" stroke="#fff" stroke-width="0.85" stroke-dasharray="0.9 1.5"/>
<polyline points="183.0,462.6 362.5,529.5 543.0,562.8" fill="none" stroke="#000" stroke-width="3.2" stroke-dasharray="9.7 3.6" stroke-dashoffset="-7"/>
<polyline points="183.0,462.6 363.5,471.5 543.0,517.1" fill="none" stroke="#000" stroke-width="3.2" stroke-linejoin="round"/>
<polyline points="183.2,460.4 363.4,473.0 543.2,451.2" fill="none" stroke="#000" stroke-width="3.2" stroke-dasharray="21.8 14.7" stroke-linecap="round" stroke-dashoffset="-1.4"/>
<polyline points="182.8,462.6 363.3,478.3 543.0,501.7" fill="none" stroke="#000" stroke-width="3.2" stroke-dasharray="21.8 14.3 0.2 13 0.2 13.5" stroke-linecap="round" stroke-dashoffset="-1.6"/>
<path d="M182.6,463.15L188.35,474.65L176.85,474.65Z" fill="#fff" stroke="#4a4a4a" stroke-width="1.1"/>
<path d="M363,535.25L368.75,546.75L357.25,546.75Z" fill="#fff" stroke="#4a4a4a" stroke-width="1.1"/>
<path d="M543,560.75L548.75,572.25L537.25,572.25Z" fill="#fff" stroke="#4a4a4a" stroke-width="1.1"/>
<path d="M176.2,456.8L189.8,468.4M176.2,468.4L189.8,456.8M183.0,456.4L183.0,468.8" stroke="#4a4a4a" stroke-width="1.1" fill="none"/>
<path d="M356.7,465.7L370.3,477.3M356.7,477.3L370.3,465.7M363.5,465.3L363.5,477.7" stroke="#4a4a4a" stroke-width="1.1" fill="none"/>
<path d="M536.2,511.3L549.8,522.9M536.2,522.9L549.8,511.3M543.0,510.9L543.0,523.3" stroke="#4a4a4a" stroke-width="1.1" fill="none"/>
<path d="M176.6,462.6L183,457.0L189.4,462.6L183,468.20000000000005Z" fill="#000"/>
<path d="M356.09999999999997,529.5L362.5,523.9L368.90000000000003,529.5L362.5,535.1Z" fill="#000"/>
<path d="M536.6,562.8L543,557.1999999999999L549.4,562.8L543,568.4Z" fill="#000"/>
<rect x="178.4" y="456.2" width="9.5" height="8.3" fill="#000"/>
<rect x="358.6" y="468.9" width="9.5" height="8.3" fill="#000"/>
<rect x="538.5" y="447.1" width="9.5" height="8.3" fill="#000"/>
<ellipse cx="182.8" cy="462.6" rx="6.15" ry="5.66" fill="#000"/>
<ellipse cx="363.3" cy="478.3" rx="6.15" ry="5.66" fill="#000"/>
<ellipse cx="543" cy="501.7" rx="6.15" ry="5.66" fill="#000"/>
<use href="#ast" x="364.9" y="456.3"/>
<use href="#ast" x="364.9" y="498.7"/>
<use href="#ast" x="543.9" y="435.3"/>
<use href="#ast" x="543.9" y="486.4"/>
<use href="#ast" x="543.4" y="535.5"/>
<text transform="translate(127.00,662.00) scale(1.0,1)" font-size="16" text-anchor="middle" >A</text>
<text transform="translate(155.60,662.00) scale(1.0,1)" font-size="16" text-anchor="middle" >B</text>
<text transform="translate(183.50,662.00) scale(1.0,1)" font-size="16" text-anchor="middle" >C</text>
<text transform="translate(212.60,662.00) scale(1.0,1)" font-size="16" text-anchor="middle" >D</text>
<text transform="translate(241.20,662.00) scale(1.0,1)" font-size="16" text-anchor="middle" >E</text>
<text transform="translate(16.20,459.20) scale(1.0,1)" font-size="22" text-anchor="middle" >B</text>
<text transform="translate(13.00,625.50) rotate(-90) scale(1,1.05)" font-size="18.6" text-anchor="middle">Optical Density (A<tspan font-size="12" dy="3.8">590</tspan><tspan dy="-3.8">)</tspan></text>
<text transform="translate(761.00,630.00) rotate(-90) scale(1,1.08)" font-size="17.75" text-anchor="middle">Colony foeming unit (cfu/ml)</text>
</g></svg></body></html>
